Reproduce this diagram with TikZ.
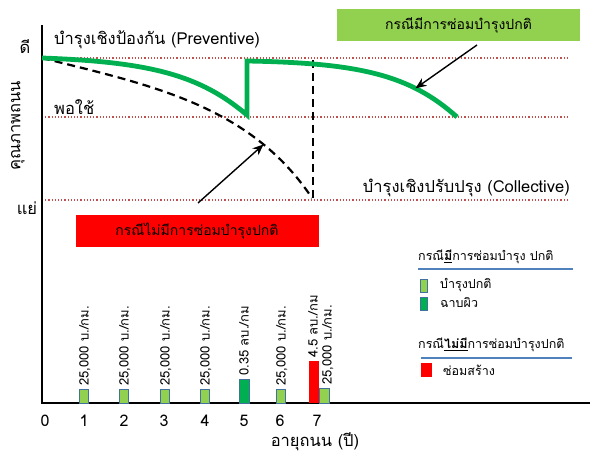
\documentclass[tikz,border=0pt]{standalone}
\usepackage{fontspec}
\setmainfont[Script=Thai]{Loma}
\usetikzlibrary{arrows.meta,positioning}
\definecolor{grn}{HTML}{00B050}
\definecolor{ltgrn}{HTML}{92D050}
\definecolor{dotred}{HTML}{C0504D}
\definecolor{lgblue}{HTML}{4F81BD}
\definecolor{barline}{HTML}{41719C}

\begin{document}
\begin{tikzpicture}[
  x=1pt, y=-1pt,
  lbl/.style={font=\fontsize{16.5}{19}\selectfont, inner sep=0pt},
  tick/.style={font=\fontsize{16}{19}\selectfont, inner sep=0pt},
  barlbl/.style={font=\fontsize{13}{15}\selectfont, rotate=90, anchor=west, inner sep=0pt},
  leg/.style={font=\fontsize{12.5}{15}\selectfont, inner sep=0pt, anchor=west},
  bar/.style={draw=barline, line width=0.8pt},
  level/.style={dotred, dotted, line width=1.2pt},
  curve/.style={grn, line width=4.8pt},
  dashcurve/.style={black, line width=2.2pt, dash pattern=on 8pt off 5pt},
  arr/.style={-{Stealth[length=11pt,width=9pt]}, line width=1.4pt},
  casebox/.style={minimum width=243pt, minimum height=32pt, inner sep=0pt,
                  font=\fontsize{14}{16}\selectfont},
]
  \useasboundingbox (0,0) rectangle (590,457);
  % levels
  \draw[level] (42,58) -- (568,58);
  \draw[level] (42,117) -- (568,117);
  \draw[level] (42,200) -- (568,200);
  % axes
  \draw[line width=1.6pt] (42,25) -- (42,403) -- (590,403);
  \node[lbl] (good) at (25,47) {ดี};
  \node[lbl, rotate=90] (qual) at (18,126) {คุณภาพถนน};
  \node[lbl] (bad) at (27,208) {แย่};
  \node[lbl, anchor=west] (prev) at (54,40) {บำรุงเชิงป้องกัน (Preventive)};
  \node[lbl, anchor=west] (fair) at (54,107) {พอใช้};
  \node[lbl, anchor=east] (coll) at (570,188) {บำรุงเชิงปรับปรุง (Collective)};
  % curves
  \draw[dashcurve] (42,58) .. controls (150,85) and (250,105) .. coordinate[pos=0.77] (dmid) (312,198);
  \draw[dashcurve] (313,60) -- (313,200);
  \draw[curve] (42,58) .. controls (150,62) and (200,75) .. (247,115) -- (247,61)
    .. controls (360,63) and (410,75) .. coordinate[pos=0.72] (gmid) (457,117);
  % case boxes
  \node[casebox, fill=ltgrn] (withm) at (458.5,25) {กรณีมีการซ่อมบำรุงปกติ};
  \node[casebox, fill=red] (nom) at (197,231) {กรณีไม่มีการซ่อมบำรุงปกติ};
  \coordinate (gtail) at (477,45);
  \coordinate (dtail) at (198,203);
  \draw[arr] (gtail) -- (gmid);
  \draw[arr] (dtail) -- (dmid);
  % years
  \foreach \i/\x in {0/45,1/84,2/124,3/164,4/205,5/244,6/280,7/317}
    \node[tick] (t\i) at (\x,421) {\i};
  \node[lbl] (age) at (315,442) {อายุถนน (ปี)};
  % bars
  \foreach \n/\x in {1/79,2/119,3/160,4/200,6/276}{
    \draw[bar, fill=ltgrn] (\x,389) rectangle (\x+9,403);
    \node[barlbl] (b\n) at (\x+6,386) {25,000 บ./กม.};
  }
  \draw[bar, fill=grn] (239,379) rectangle (249,403);
  \node[barlbl] (b5) at (244,376) {0.35 ลบ./กม};
  \fill[red] (309,361) rectangle (319,403);
  \node[barlbl] (b7r) at (313,358) {4.5 ลบ./กม};
  \draw[bar, fill=ltgrn] (319,388) rectangle (329,403);
  \node[barlbl] (b7) at (328,385) {25,000 บ./กม.};
  % legend
  \node[leg] (lg1) at (418,257) {กรณี\underline{\textbf{มี}}การซ่อมบำรุง ปกติ};
  \draw[lgblue, line width=1.2pt] (418,269) -- (573,269);
  \draw[bar, fill=ltgrn] (420,279) rectangle (427,292);
  \node[leg] (lgA) at (440,285) {บำรุงปกติ};
  \draw[bar, fill=grn] (420,297) rectangle (427,310);
  \node[leg] (lgB) at (440,303) {ฉาบผิว};
  \node[leg] (lg2) at (418,345) {กรณี\underline{\textbf{ไม่มี}}การซ่อมบำรุงปกติ};
  \draw[lgblue, line width=1.2pt] (421,358) -- (572,358);
  \fill[red] (421,363) rectangle (432,377);
  \node[leg] (lgC) at (443,370) {ซ่อมสร้าง};
\end{tikzpicture}
\end{document}
